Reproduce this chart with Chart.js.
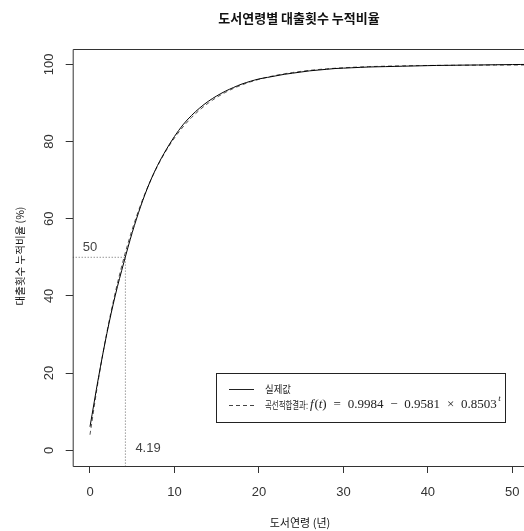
<!DOCTYPE html>
<html>
<head>
<meta charset="utf-8">
<script src="https://cdn.jsdelivr.net/npm/chart.js@4.4.1/dist/chart.umd.min.js"></script>
<style>
html, body { margin: 0; padding: 0; background: #fff; overflow: hidden; }
#wrap { width: 524px; height: 531px; }
</style>
</head>
<body>
<div id="wrap"><canvas id="cum_line"></canvas></div>
<script>
// book age (years)
var years = [0,1,2,3,4,5,6,7,8,9,10,11,12,13,14,15,16,17,18,19,20,21,22,23,24,25,26,
	27,28,29,30,31,32,33,34,35,36,37,38,39,40,41,42,43,44,45,46,47,48,49,50,51,52,53];
// cumulative loan ratio, observed (%)
var actualPct = [6.1,18.8,30.3,40.2,48.6,56.4,63.2,69.0,73.8,77.8,81.3,84.3,86.7,88.7,90.4,91.8,93.0,94.0,94.9,95.6,
	96.2,96.6,97.0,97.4,97.7,98.0,98.3,98.5,98.7,98.9,99.0,99.1,99.2,99.3,99.35,99.4,99.45,99.5,99.55,99.6,
	99.65,99.7,99.72,99.75,99.78,99.8,99.82,99.85,99.88,99.9,99.93,99.95,99.97,100];
// fitted curve (%)
var fitPct = [4.03,18.37,30.57,40.94,49.75,57.25,63.63,69.05,73.66,77.58,80.91,83.74,86.15,88.20,89.94,91.43,92.68,93.76,94.67,95.44,
	96.10,96.66,97.14,97.54,97.88,98.18,98.43,98.64,98.82,98.97,99.10,99.21,99.31,99.39,99.45,99.51,99.56,99.60,99.64,99.67,
	99.69,99.71,99.73,99.75,99.76,99.77,99.78,99.79,99.80,99.80,99.81,99.81,99.82,99.82];
var xTicks = [0,10,20,30,40,50];
var yTicks = [0,20,40,60,80,100];
var halfAge = 4.19;
var halfPct = 50;

var xMin = -2.048, xMax = 51.38;
var yMin = -4.07, yMax = 103.96;

var actualData = [];
var fitData = [];
years.forEach(function(t, i) {
	actualData.push({x: t, y: actualPct[i]});
	fitData.push({x: t, y: fitPct[i]});
});
var guideData = [{x: xMin, y: halfPct}, {x: halfAge, y: halfPct}, {x: halfAge, y: yMin}];

var tickFont = "13px 'Liberation Sans', Arial, sans-serif";
var korFont = "'Noto Sans CJK KR', 'Noto Sans', sans-serif";
var serif = "'Liberation Serif', 'DejaVu Serif', serif";

//draws box, labels, titles and the legend the way R does
var rDecor = {
	id: 'rDecor',
	afterDraw: function(chart) {
		var c = chart.ctx;
		var a = chart.chartArea;
		var xs = chart.scales.x, ys = chart.scales.y;
		c.save();
		// box (right side runs off the picture)
		c.strokeStyle = '#333';
		c.lineWidth = 1;
		c.beginPath();
		c.moveTo(a.right + 1, a.top + 0.5);
		c.lineTo(a.left + 0.5, a.top + 0.5);
		c.lineTo(a.left + 0.5, a.bottom + 0.5);
		c.lineTo(a.right + 1, a.bottom + 0.5);
		c.stroke();

		// tick labels
		c.fillStyle = '#333';
		c.font = tickFont;
		c.textAlign = 'center';
		c.textBaseline = 'middle';
		xTicks.forEach(function(v) {
			c.fillText(String(v), xs.getPixelForValue(v), 492);
		});
		yTicks.forEach(function(v) {
			c.save();
			c.translate(49, ys.getPixelForValue(v));
			c.rotate(-Math.PI / 2);
			c.fillText(String(v), 0, 0);
			c.restore();
		});

		// guide labels
		c.fillStyle = '#444';
		c.font = "13px 'Liberation Sans', Arial, sans-serif";
		c.textAlign = 'center';
		c.fillText(String(halfPct), xs.getPixelForValue(0), ys.getPixelForValue(halfPct) - 10);
		c.textAlign = 'left';
		c.fillText(String(halfAge), xs.getPixelForValue(halfAge) + 10, ys.getPixelForValue(0) - 2);

		// titles
		c.fillStyle = '#111';
		c.textAlign = 'center';
		c.font = "bold 13px " + korFont;
		c.fillText('도서연령별 대출횟수 누적비율', 299, 18);
		c.font = "11px " + korFont;
		c.fillText('도서연령 (년)', 300, 523);
		c.save();
		c.translate(20, 256);
		c.rotate(-Math.PI / 2);
		c.font = "10.5px " + korFont;
		c.fillText('대출횟수 누적비율 (%)', 0, 0);
		c.restore();

		// legend
		var lx = 216, ly = 373, lw = 289, lh = 49;
		c.strokeStyle = '#222';
		c.strokeRect(lx + 0.5, ly + 0.5, lw, lh);
		c.beginPath();
		c.moveTo(229, 389.5);
		c.lineTo(254, 389.5);
		c.stroke();
		c.setLineDash([4, 3]);
		c.strokeStyle = '#444';
		c.beginPath();
		c.moveTo(229, 405.5);
		c.lineTo(254, 405.5);
		c.stroke();
		c.setLineDash([]);
		c.fillStyle = '#222';
		c.textAlign = 'left';
		c.font = "10px " + korFont;
		c.fillText('실제값', 265, 389, 26);
		c.fillText('곡선적합결과:', 265, 405, 43);

		// f(t) = 0.9984 - 0.9581 x 0.8503^t, spread over the legend width like plotmath
		var parts = [
			[['f', 'italic'], ['(', ''], ['t', 'italic'], [')', '']],
			[['=', '']], [['0.9984', '']], [['\u2212', '']], [['0.9581', '']], [['\u00d7', '']], [['0.8503', '']]
		];
		var fs = 13;
		var widths = parts.map(function(grp) {
			var w = 0;
			grp.forEach(function(p) { c.font = p[1] + " " + fs + "px " + serif; w += c.measureText(p[0]).width; });
			return w;
		});
		c.font = "italic 9px " + serif;
		var supW = c.measureText('t').width + 1.5;
		var total = widths.reduce(function(s, w) { return s + w; }, 0) + supW;
		var gap = (190 - total) / (parts.length - 1);
		var fx = 310;
		parts.forEach(function(grp, gi) {
			grp.forEach(function(p) {
				c.font = p[1] + " " + fs + "px " + serif;
				c.fillText(p[0], fx, 405);
				fx += c.measureText(p[0]).width + (p[0] === 'f' ? 0.8 : 0);
			});
			if (gi < parts.length - 1) fx += gap;
		});
		c.font = "italic 9px " + serif;
		c.fillText('t', fx + 1.5, 399);
		c.restore();
	}
};

var ctx = document.getElementById("cum_line").getContext("2d");
var cumLine = new Chart(ctx, {
	type: 'line',
	data: {
		datasets: [
			{label: '실제값', data: actualData, borderColor: '#000', borderWidth: 1, pointRadius: 0,
				fill: false, cubicInterpolationMode: 'monotone'},
			{label: '곡선적합결과', data: fitData, borderColor: '#555', borderWidth: 1, borderDash: [4, 3],
				pointRadius: 0, fill: false, cubicInterpolationMode: 'monotone'},
			{label: 'guide', data: guideData, borderColor: '#666', borderWidth: 1, borderDash: [1, 2],
				pointRadius: 0, fill: false, tension: 0}
		]
	},
	options: {
		animation: false,
		responsive: true,
		maintainAspectRatio: false,
		events: [],
		layout: {padding: {top: 49, left: 0, right: 0, bottom: 0}},
		plugins: {legend: {display: false}, title: {display: false}, tooltip: {enabled: false}},
		scales: {
			x: {
				type: 'linear', min: xMin, max: xMax,
				afterBuildTicks: function(s) { s.ticks = xTicks.map(function(v) { return {value: v}; }); },
				afterFit: function(s) { s.height = 65; },
				ticks: {display: false},
				border: {display: false},
				grid: {drawOnChartArea: false, drawTicks: true, tickLength: 7, color: '#333', lineWidth: 1}
			},
			y: {
				type: 'linear', min: yMin, max: yMax,
				afterBuildTicks: function(s) { s.ticks = yTicks.map(function(v) { return {value: v}; }); },
				afterFit: function(s) { s.width = 72.7; },
				ticks: {display: false},
				border: {display: false},
				grid: {drawOnChartArea: false, drawTicks: true, tickLength: 7, color: '#333', lineWidth: 1}
			}
		}
	},
	plugins: [rDecor]
});
</script>
</body>
</html>
